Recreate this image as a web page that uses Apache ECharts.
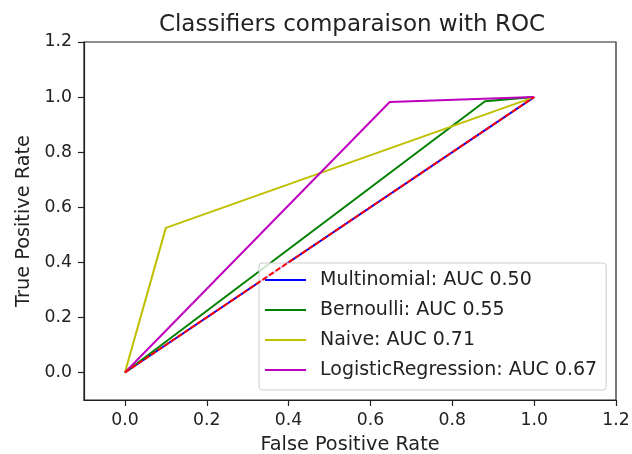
<!DOCTYPE html>
<html>
<head>
<meta charset="utf-8">
<script src="https://cdn.jsdelivr.net/npm/echarts@6/dist/echarts.min.js"></script>
<style>html,body{margin:0;padding:0;background:#fff}#c{width:632px;height:454px}</style>
</head>
<body>
<div id="c"></div>
<script>
const chartTitle = 'Classifiers comparaison with ROC';
const xLabel = 'False Positive Rate';
const yLabel = 'True Positive Rate';
const tickValues = [0, 0.2, 0.4, 0.6, 0.8, 1.0, 1.2];
const seriesNames = ['Multinomial: AUC 0.50', 'Bernoulli: AUC 0.55', 'Naive: AUC 0.71', 'LogisticRegression: AUC 0.67'];
const multinomialFpr = [0, 1];
const multinomialTpr = [0, 1];
const bernoulliFpr = [0, 0.88, 1];
const bernoulliTpr = [0, 0.985, 1];
const naiveFpr = [0, 0.1, 1];
const naiveTpr = [0, 0.525, 1];
const logisticFpr = [0, 0.647, 1];
const logisticTpr = [0, 0.982, 1];
const chanceFpr = [0, 1];
const chanceTpr = [0, 1];

const FONT = 'DejaVu Sans';
const colors = ['#0000ff', '#008000', '#bfbf00', '#bf00bf'];
const pairs = (xs, ys) => xs.map((x, i) => [x, ys[i]]);
const data = [
  pairs(multinomialFpr, multinomialTpr),
  pairs(bernoulliFpr, bernoulliTpr),
  pairs(naiveFpr, naiveTpr),
  pairs(logisticFpr, logisticTpr)
];
const series = seriesNames.map((name, i) => ({
  name, type: 'line', data: data[i], symbol: 'none', z: 2 + i,
  lineStyle: {color: colors[i], width: 2}, itemStyle: {color: colors[i]},
  animation: false
}));
series.push({
  name: 'chance', type: 'line', data: pairs(chanceFpr, chanceTpr), symbol: 'none', z: 10,
  lineStyle: {color: '#ff0000', width: 2, type: [5.5, 2.4]}, animation: false
});

const axisCommon = (name) => ({
  type: 'value', min: -0.1, max: 1.2,
  name, nameLocation: 'middle',
  nameTextStyle: {fontFamily: FONT, fontSize: 19.3, color: '#222'},
  axisLine: {show: true, onZero: false, lineStyle: {color: '#222', width: 1.2}},
  axisTick: {show: true, customValues: tickValues, length: 6, inside: false, lineStyle: {color: '#222', width: 1.2}},
  axisLabel: {customValues: tickValues, fontFamily: FONT, fontSize: 17.3, color: '#222', margin: 12,
    formatter: v => v.toFixed(1), showMinLabel: true, showMaxLabel: true},
  splitLine: {show: false}
});

const chart = echarts.init(document.getElementById('c'));
chart.setOption({
  animation: false,
  title: {text: chartTitle, left: 347, textAlign: 'center', top: 9,
    textStyle: {fontFamily: FONT, fontSize: 23, fontWeight: 'normal', color: '#222'}},
  grid: {left: 84, right: 16, top: 42, bottom: 54, outerBoundsMode: 'none', containLabel: false,
    show: true, borderColor: '#222', borderWidth: 1.2, backgroundColor: 'transparent'},
  xAxis: Object.assign(axisCommon(xLabel), {nameGap: 35}),
  yAxis: Object.assign(axisCommon(yLabel), {nameGap: 50}),
  legend: {
    data: seriesNames, orient: 'vertical', left: 259, top: 263,
    icon: 'rect', itemWidth: 41, itemHeight: 2, itemGap: 8,
    textStyle: {fontFamily: FONT, fontSize: 19, color: '#222', lineHeight: 22, padding: [0, 0, 0, 9]},
    padding: [6, 9, 9, 6], backgroundColor: 'rgba(255,255,255,0.8)',
    borderColor: '#ccc', borderWidth: 1, borderRadius: 3
  },
  series
});
</script>
</body>
</html>
